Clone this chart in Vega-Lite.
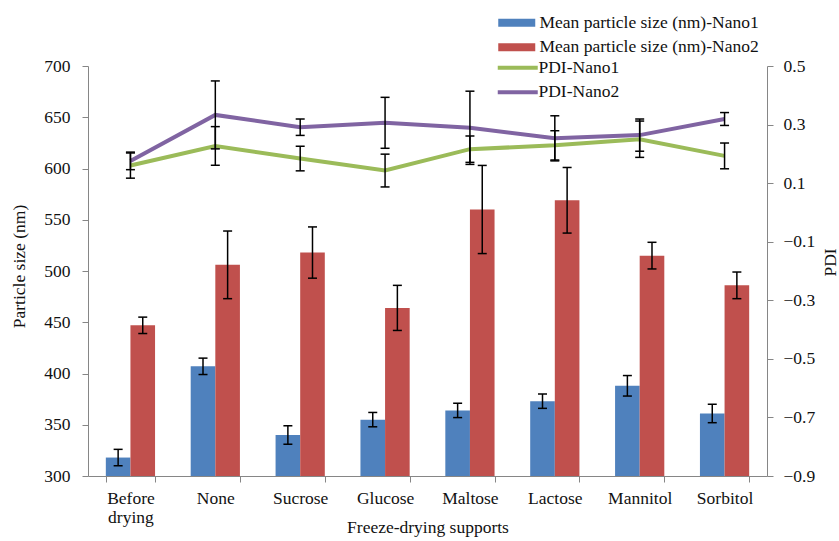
{
  "$schema": "https://vega.github.io/schema/vega-lite/v6.json",
  "width": 679,
  "height": 410,
  "autosize": {"type": "none"},
  "padding": {"left": 88, "top": 66, "right": 72, "bottom": 65},
  "background": "white",
  "config": {
    "view": {"stroke": null},
    "font": "Liberation Serif",
    "axis": {
      "grid": false,
      "domainColor": "#868686",
      "tickColor": "#868686",
      "tickSize": 6,
      "labelFont": "Liberation Serif",
      "labelFontSize": 17.5,
      "labelColor": "#111111",
      "titleFont": "Liberation Serif",
      "titleFontSize": 17.5,
      "titleFontWeight": "normal",
      "titleColor": "#111111"
    },
    "legend": {
      "labelFont": "Liberation Serif",
      "labelFontSize": 17.5,
      "labelColor": "#111111",
      "labelLimit": 400,
      "padding": 0,
      "rowPadding": 5.5
    }
  },
  "datasets": {
    "size": [
      {"cat": "Before drying", "series": "Mean particle size (nm)-Nano1", "mean": 318, "lo": 310, "hi": 326},
      {"cat": "Before drying", "series": "Mean particle size (nm)-Nano2", "mean": 447, "lo": 439, "hi": 455},
      {"cat": "None", "series": "Mean particle size (nm)-Nano1", "mean": 407, "lo": 399, "hi": 415},
      {"cat": "None", "series": "Mean particle size (nm)-Nano2", "mean": 506, "lo": 473, "hi": 539},
      {"cat": "Sucrose", "series": "Mean particle size (nm)-Nano1", "mean": 340, "lo": 331, "hi": 349},
      {"cat": "Sucrose", "series": "Mean particle size (nm)-Nano2", "mean": 518, "lo": 493, "hi": 543},
      {"cat": "Glucose", "series": "Mean particle size (nm)-Nano1", "mean": 355, "lo": 348, "hi": 362},
      {"cat": "Glucose", "series": "Mean particle size (nm)-Nano2", "mean": 464, "lo": 442, "hi": 486},
      {"cat": "Maltose", "series": "Mean particle size (nm)-Nano1", "mean": 364, "lo": 357, "hi": 371},
      {"cat": "Maltose", "series": "Mean particle size (nm)-Nano2", "mean": 560, "lo": 517, "hi": 603},
      {"cat": "Lactose", "series": "Mean particle size (nm)-Nano1", "mean": 373, "lo": 366, "hi": 380},
      {"cat": "Lactose", "series": "Mean particle size (nm)-Nano2", "mean": 569, "lo": 537, "hi": 601},
      {"cat": "Mannitol", "series": "Mean particle size (nm)-Nano1", "mean": 388, "lo": 378, "hi": 398},
      {"cat": "Mannitol", "series": "Mean particle size (nm)-Nano2", "mean": 515, "lo": 502, "hi": 528},
      {"cat": "Sorbitol", "series": "Mean particle size (nm)-Nano1", "mean": 361, "lo": 352, "hi": 370},
      {"cat": "Sorbitol", "series": "Mean particle size (nm)-Nano2", "mean": 486, "lo": 473, "hi": 499}
    ],
    "pdi": [
      {"cat": "Before drying", "series": "PDI-Nano1", "mean": 0.160, "lo": 0.117, "hi": 0.203},
      {"cat": "Before drying", "series": "PDI-Nano2", "mean": 0.176, "lo": 0.146, "hi": 0.206},
      {"cat": "None", "series": "PDI-Nano1", "mean": 0.227, "lo": 0.161, "hi": 0.293},
      {"cat": "None", "series": "PDI-Nano2", "mean": 0.333, "lo": 0.217, "hi": 0.449},
      {"cat": "Sucrose", "series": "PDI-Nano1", "mean": 0.184, "lo": 0.142, "hi": 0.226},
      {"cat": "Sucrose", "series": "PDI-Nano2", "mean": 0.291, "lo": 0.263, "hi": 0.319},
      {"cat": "Glucose", "series": "PDI-Nano1", "mean": 0.143, "lo": 0.087, "hi": 0.199},
      {"cat": "Glucose", "series": "PDI-Nano2", "mean": 0.306, "lo": 0.219, "hi": 0.393},
      {"cat": "Maltose", "series": "PDI-Nano1", "mean": 0.216, "lo": 0.171, "hi": 0.261},
      {"cat": "Maltose", "series": "PDI-Nano2", "mean": 0.289, "lo": 0.164, "hi": 0.414},
      {"cat": "Lactose", "series": "PDI-Nano1", "mean": 0.229, "lo": 0.179, "hi": 0.279},
      {"cat": "Lactose", "series": "PDI-Nano2", "mean": 0.253, "lo": 0.176, "hi": 0.330},
      {"cat": "Mannitol", "series": "PDI-Nano1", "mean": 0.250, "lo": 0.188, "hi": 0.312},
      {"cat": "Mannitol", "series": "PDI-Nano2", "mean": 0.264, "lo": 0.209, "hi": 0.319},
      {"cat": "Sorbitol", "series": "PDI-Nano1", "mean": 0.193, "lo": 0.149, "hi": 0.237},
      {"cat": "Sorbitol", "series": "PDI-Nano2", "mean": 0.319, "lo": 0.297, "hi": 0.341}
    ]
  },
  "encoding": {
    "x": {
      "field": "cat",
      "type": "nominal",
      "sort": ["Before drying", "None", "Sucrose", "Glucose", "Maltose", "Lactose", "Mannitol", "Sorbitol"],
      "scale": {"paddingInner": 0.42, "paddingOuter": 0.21},
      "axis": {
        "title": "Freeze-drying supports",
        "labelAngle": 0,
        "tickBand": "extent",
        "labelPadding": 7,
        "labelLineHeight": 19,
        "labelExpr": "datum.value == 'Before drying' ? ['Before', 'drying'] : datum.value",
        "titleY": 51.5,
        "titleBaseline": "middle"
      }
    }
  },
  "layer": [
    {
      "data": {"name": "size"},
      "encoding": {
        "xOffset": {
          "field": "series",
          "type": "nominal",
          "sort": ["Mean particle size (nm)-Nano1", "Mean particle size (nm)-Nano2"],
          "scale": {"paddingInner": 0, "paddingOuter": 0}
        }
      },
      "layer": [
        {
          "mark": {"type": "bar"},
          "encoding": {
            "y": {
              "field": "mean",
              "type": "quantitative",
              "scale": {"domain": [300, 700], "nice": false, "zero": false},
              "axis": {
                "title": "Particle size (nm)",
                "values": [300, 350, 400, 450, 500, 550, 600, 650, 700],
                "labelPadding": 12,
                "titleX": -69,
                "titleY": 200,
                "titleAngle": -90,
                "titleBaseline": "middle",
                "titleAlign": "center"
              }
            },
            "y2": {"datum": 300},
            "fill": {
              "field": "series",
              "type": "nominal",
              "scale": {"domain": ["Mean particle size (nm)-Nano1", "Mean particle size (nm)-Nano2"], "range": ["#4F81BD", "#C0504D"]},
              "legend": {
                "title": null,
                "orient": "none",
                "legendX": 420,
                "legendY": -52,
                "symbolType": "M-3.7,-0.8H3.7V0.8H-3.7Z",
                "symbolSize": 100,
                "symbolStrokeWidth": 0,
                "symbolOpacity": 1,
                "labelOffset": 14
              }
            }
          }
        },
        {
          "mark": {"type": "rule", "color": "#000000", "strokeWidth": 1.5},
          "encoding": {
            "y": {"field": "lo", "type": "quantitative"},
            "y2": {"field": "hi"}
          }
        },
        {
          "mark": {"type": "tick", "orient": "horizontal", "color": "#000000", "size": 9, "thickness": 1.5, "opacity": 1},
          "encoding": {"y": {"field": "lo", "type": "quantitative"}}
        },
        {
          "mark": {"type": "tick", "orient": "horizontal", "color": "#000000", "size": 9, "thickness": 1.5, "opacity": 1},
          "encoding": {"y": {"field": "hi", "type": "quantitative"}}
        }
      ]
    },
    {
      "data": {"name": "pdi"},
      "layer": [
        {
          "mark": {"type": "line", "strokeWidth": 4},
          "encoding": {
            "y": {
              "field": "mean",
              "type": "quantitative",
              "scale": {"domain": [-0.9, 0.5], "nice": false, "zero": false},
              "axis": {
                "orient": "right",
                "title": "PDI",
                "values": [-0.9, -0.7, -0.5, -0.3, -0.1, 0.1, 0.3, 0.5],
                "format": ".1f",
                "labelPadding": 10,
                "titleX": 63,
                "titleY": 196,
                "titleAngle": -90,
                "titleBaseline": "middle",
                "titleAlign": "center"
              }
            },
            "stroke": {
              "field": "series",
              "type": "nominal",
              "scale": {"domain": ["PDI-Nano1", "PDI-Nano2"], "range": ["#9BBB59", "#8064A2"]},
              "legend": {
                "title": null,
                "orient": "none",
                "legendX": 421,
                "legendY": -7,
                "symbolType": "M-4,0H4",
                "symbolSize": 100,
                "symbolStrokeWidth": 4,
                "labelOffset": 12
              }
            }
          }
        },
        {
          "mark": {"type": "rule", "color": "#000000", "strokeWidth": 1.5},
          "encoding": {
            "y": {"field": "lo", "type": "quantitative"},
            "y2": {"field": "hi"}
          }
        },
        {
          "mark": {"type": "tick", "orient": "horizontal", "color": "#000000", "size": 9, "thickness": 1.5, "opacity": 1},
          "encoding": {"y": {"field": "lo", "type": "quantitative"}}
        },
        {
          "mark": {"type": "tick", "orient": "horizontal", "color": "#000000", "size": 9, "thickness": 1.5, "opacity": 1},
          "encoding": {"y": {"field": "hi", "type": "quantitative"}}
        }
      ]
    }
  ],
  "resolve": {"scale": {"y": "independent"}}
}
